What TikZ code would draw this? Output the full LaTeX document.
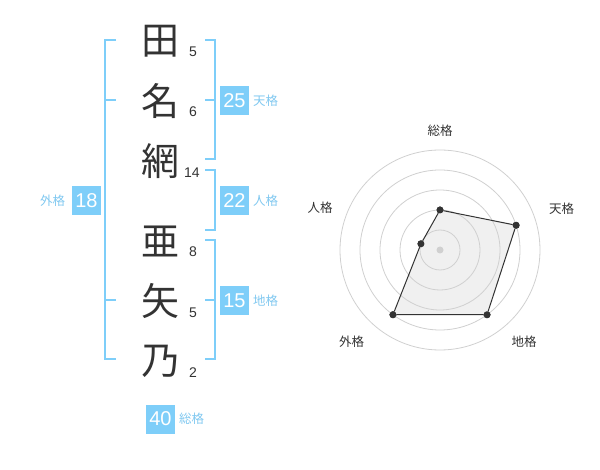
\documentclass[tikz,border=0pt]{standalone}
\usepackage{fontspec}
\setmainfont{Liberation Sans}
\newfontfamily\jpfont{Noto Sans CJK JP}
\definecolor{NMcolBlue}{HTML}{7ecef9}
\definecolor{NMcolLabel}{HTML}{80c8f0}
\definecolor{NMcolInk}{HTML}{333333}
\definecolor{NMcolRing}{HTML}{d0d0d0}
\definecolor{NMcolFill}{HTML}{f0f0f0}
\usetikzlibrary{positioning}
\tikzset{
  kanji/.style={text=NMcolInk,font=\jpfont\fontsize{38}{38}\selectfont},
  strokes/.style={text=NMcolInk,font=\fontsize{14}{14}\selectfont},
  gradebox/.style={fill=NMcolBlue,text=white,minimum size=29pt,font=\fontsize{20}{20}\selectfont},
  gradelabel/.style={text=NMcolLabel,font=\jpfont\fontsize{12.5}{12.5}\selectfont},
  bracket/.style={draw=NMcolBlue,line width=2pt,line join=miter},
  axislabel/.style={text=NMcolInk,font=\jpfont\fontsize{12.5}{12.5}\selectfont},
  dot/.style={circle,fill=NMcolInk,minimum size=7pt}
}
\begin{document}
\begin{tikzpicture}[y=1pt, x=1pt, yscale=-1, inner sep=0pt, outer sep=0pt]
  \useasboundingbox (0,0) rectangle (600,470);
  % name column
  \node[kanji] (c1) at (160,41) {田};
  \node[kanji] (c2) at (160,101) {名};
  \node[kanji] (c3) at (160,161) {網};
  \node[kanji] (c4) at (160,241) {亜};
  \node[kanji] (c5) at (160,301) {矢};
  \node[kanji] (c6) at (160,361) {乃};
  \node[strokes] (s1) at (193,52) {5};
  \node[strokes] (s2) at (193,112) {6};
  \node[strokes] (s3) at (192,173) {14};
  \node[strokes] (s4) at (193,252) {8};
  \node[strokes] (s5) at (193,313) {5};
  \node[strokes] (s6) at (193,373) {2};
  % brackets
  \path[bracket] (116,40) -- (105,40) -- (105,359) -- (116,359);
  \path[bracket] (105,100) -- (116,100) (105,300) -- (116,300);
  \path[bracket] (205,40) -- (215,40) -- (215,159) -- (205,159);
  \path[bracket] (205,100) -- (215,100);
  \path[bracket] (205,170) -- (215,170) -- (215,230) -- (205,230);
  \path[bracket] (205,240) -- (215,240) -- (215,359) -- (205,359);
  \path[bracket] (205,300) -- (215,300);
  % grades
  \node[gradebox] (ten) at (234.5,100.5) {25};
  \node[gradelabel,right=4pt of ten] (tenL) {天格};
  \node[gradebox] (jin) at (234.5,200.5) {22};
  \node[gradelabel,right=4pt of jin] (jinL) {人格};
  \node[gradebox] (chi) at (234.5,300.5) {15};
  \node[gradelabel,right=4pt of chi] (chiL) {地格};
  \node[gradebox] (gai) at (86.5,200.5) {18};
  \node[gradelabel,left=7pt of gai] (gaiL) {外格};
  \node[gradebox] (sou) at (160.5,419) {40};
  \node[gradelabel,right=4pt of sou] (souL) {総格};
  % radar chart
  \begin{scope}[shift={(440,250)}, yscale=-1]
    \node[dot] (pSou) at (90:40) {};
    \node[dot] (pTen) at (18:80) {};
    \node[dot] (pChi) at (-54:80) {};
    \node[dot] (pGai) at (234:80) {};
    \node[dot] (pJin) at (162:20) {};
    \fill[NMcolFill] (pSou.center) -- (pTen.center) -- (pChi.center) -- (pGai.center)
      -- (pJin.center) -- cycle;
    \foreach \r in {20,40,...,100}
      \draw[NMcolRing,line width=0.8pt] (0,0) circle (\r);
    \fill[NMcolRing] (0,0) circle (3.5);
    \draw[NMcolInk,line width=1pt] (pSou) -- (pTen) -- (pChi) -- (pGai) -- (pJin) -- (pSou);
    \node[dot] at (pSou) {};
    \node[dot] at (pTen) {};
    \node[dot] at (pChi) {};
    \node[dot] at (pGai) {};
    \node[dot] at (pJin) {};
    \node[axislabel] (aSou) at (0,119.3) {総格};
    \node[axislabel] (aTen) at (121.7,41.7) {天格};
    \node[axislabel] (aChi) at (84,-91.7) {地格};
    \node[axislabel] (aGai) at (-88.3,-91.7) {外格};
    \node[axislabel] (aJin) at (-120,42) {人格};
  \end{scope}
\end{tikzpicture}
\end{document}
